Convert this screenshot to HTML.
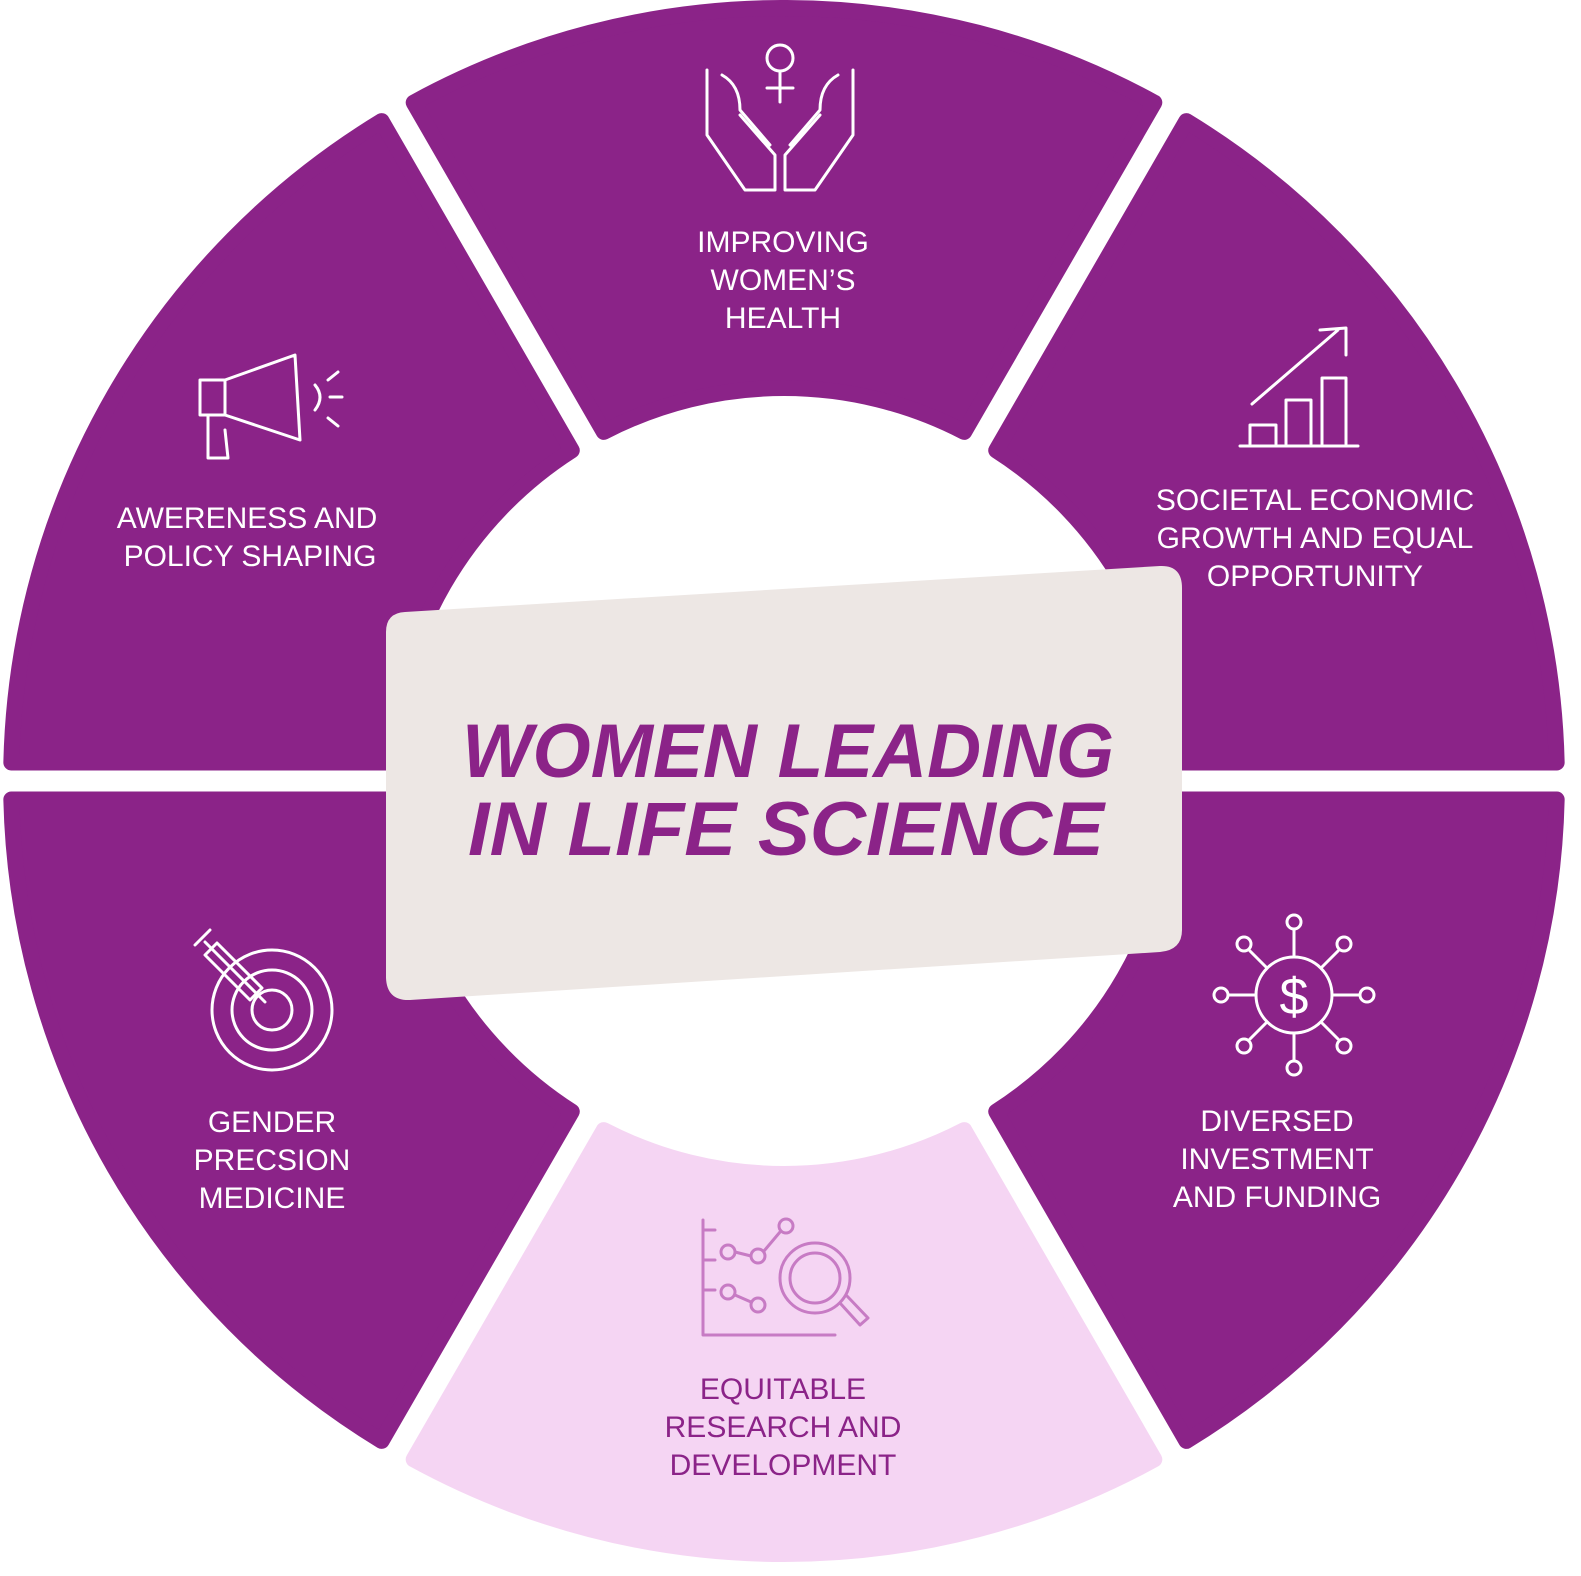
<!DOCTYPE html>
<html><head><meta charset="utf-8"><style>
html,body{margin:0;padding:0;background:#fff;}
svg{display:block;}
.l{font-family:"Liberation Sans",sans-serif;font-size:30px;fill:#fff;text-anchor:middle;}
.p{fill:#8B2388;}
.ic{fill:none;stroke:#fff;stroke-width:3;stroke-linecap:round;stroke-linejoin:round;}
.icp{fill:none;stroke:#c77bc4;stroke-width:3;stroke-linecap:round;stroke-linejoin:round;}
</style></head><body>
<svg width="1581" height="1576" viewBox="0 0 1581 1576" xmlns="http://www.w3.org/2000/svg">
<defs>
<path id="seg" d="M1154.3,102.6 A772 772 0 0 0 413.7,102.6 L603.8,431.9 A392 392 0 0 1 964.2,431.9 Z" stroke-width="16" stroke-linejoin="round"/>
</defs>
<g fill="#8B2388" stroke="#8B2388">
<use href="#seg"/>
<use href="#seg" transform="rotate(-60 784 781)"/>
<use href="#seg" transform="rotate(60 784 781)"/>
<use href="#seg" transform="rotate(120 784 781)"/>
<use href="#seg" transform="rotate(-120 784 781)"/>
</g>
<g fill="#F5D5F3" stroke="#F5D5F3">
<use href="#seg" transform="rotate(180 784 781)"/>
</g>
<path fill="#EDE7E4" d="M405,612 L1160,566 Q1182,565 1182,588 L1182,930 Q1182,950 1160,952 L410,1000 Q387,1001 386,978 L386,632 Q386,613 405,612 Z"/>
<g font-family="Liberation Sans,sans-serif" font-weight="bold" font-style="italic" class="p">
<text x="462" y="777" font-size="76" textLength="652" lengthAdjust="spacingAndGlyphs">WOMEN LEADING</text>
<text x="468" y="855" font-size="76" textLength="636" lengthAdjust="spacingAndGlyphs">IN LIFE SCIENCE</text>
</g>
<text class="l" x="783" y="252">IMPROVING</text>
<text class="l" x="783" y="290">WOMEN’S</text>
<text class="l" x="783" y="328">HEALTH</text>
<text class="l" x="247" y="528">AWERENESS AND</text>
<text class="l" x="250" y="566">POLICY SHAPING</text>
<text class="l" x="1315" y="510">SOCIETAL ECONOMIC</text>
<text class="l" x="1315" y="548">GROWTH AND EQUAL</text>
<text class="l" x="1315" y="586">OPPORTUNITY</text>
<text class="l" x="272" y="1132">GENDER</text>
<text class="l" x="272" y="1170">PRECSION</text>
<text class="l" x="272" y="1208">MEDICINE</text>
<text class="l" x="1277" y="1131">DIVERSED</text>
<text class="l" x="1277" y="1169">INVESTMENT</text>
<text class="l" x="1277" y="1207">AND FUNDING</text>
<text class="l p" x="783" y="1399">EQUITABLE</text>
<text class="l p" x="783" y="1437">RESEARCH AND</text>
<text class="l p" x="783" y="1475">DEVELOPMENT</text>
<g class="ic">
<circle cx="780" cy="58" r="13"/><line x1="780" y1="71" x2="780" y2="102"/><line x1="767" y1="88" x2="793" y2="88"/>
<path d="M707,70 L707,135 L745,190 L775,190 L775,155 L740,115 M722,75 Q740,85 740,110 L770,145"/>
<path d="M853,70 L853,135 L815,190 L785,190 L785,155 L820,115 M838,75 Q820,85 820,110 L790,145"/>
<path d="M200,380 L225,380 L295,355 L300,440 L225,415 L200,415 Z M225,380 L225,415 M208,415 L208,458 L228,458 L225,430 M315,385 Q325,397 315,410 M328,380 L338,372 M330,397 L342,397 M328,418 L338,426"/>
<path d="M1240,446 L1358,446 M1250,444 L1250,425 L1276,425 L1276,444 M1286,444 L1286,400 L1311,400 L1311,444 M1322,444 L1322,378 L1346,378 L1346,444 M1252,404 L1338,330 M1320,330 L1346,328 L1346,355"/>
<circle cx="272" cy="1010" r="60"/><circle cx="272" cy="1010" r="40"/><circle cx="272" cy="1010" r="20"/>
<path d="M265,1002 L205,942 M195,945 L210,930 M205,955 L250,1000 L262,988 L217,943 Z"/>
<circle cx="1294" cy="995" r="38"/>
<text x="1294" y="1014" font-family="Liberation Sans,sans-serif" font-size="52" fill="#fff" stroke="none" text-anchor="middle">$</text>
<path d="M1294,957 L1294,930 M1294,1033 L1294,1060 M1256,995 L1229,995 M1332,995 L1359,995 M1267,968 L1250,951 M1321,968 L1338,951 M1267,1022 L1250,1039 M1321,1022 L1338,1039"/>
<circle cx="1294" cy="922" r="7"/><circle cx="1294" cy="1068" r="7"/><circle cx="1221" cy="995" r="7"/><circle cx="1367" cy="995" r="7"/>
<circle cx="1244" cy="944" r="7"/><circle cx="1344" cy="944" r="7"/><circle cx="1244" cy="1046" r="7"/><circle cx="1344" cy="1046" r="7"/>
</g>
<g class="icp">
<path d="M703,1220 L703,1335 L835,1335 M715,1230 L703,1230 M715,1260 L703,1260 M715,1290 L703,1290"/>
<circle cx="728" cy="1252" r="7"/><circle cx="758" cy="1256" r="7"/><circle cx="786" cy="1226" r="7"/>
<circle cx="728" cy="1292" r="7"/><circle cx="758" cy="1305" r="7"/>
<path d="M735,1252 L751,1256 M764,1251 L780,1232 M735,1295 L751,1302"/>
<circle cx="815" cy="1278" r="35"/><circle cx="815" cy="1278" r="25"/>
<path d="M840,1303 L860,1325 L868,1318 L847,1296"/>
</g>
</svg>
</body></html>
